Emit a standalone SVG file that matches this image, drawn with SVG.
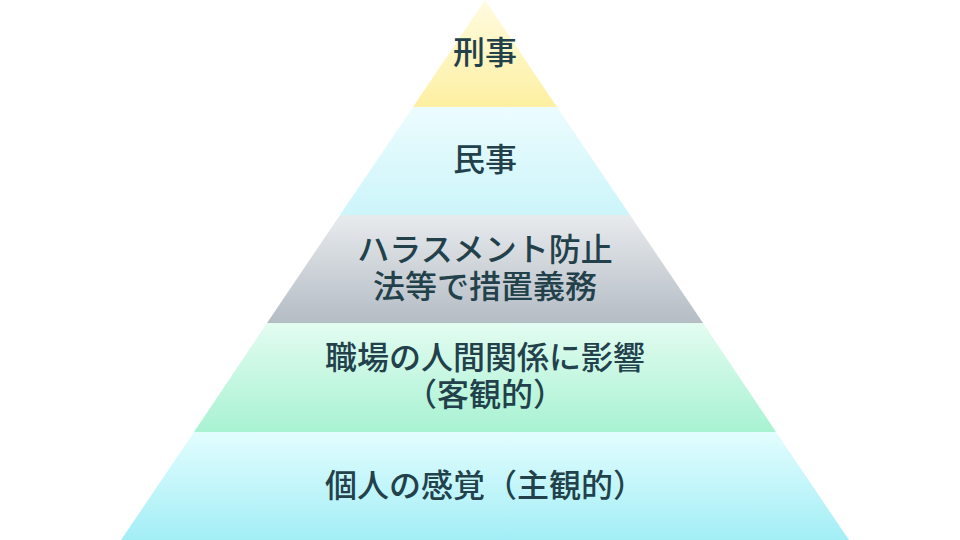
<svg xmlns="http://www.w3.org/2000/svg" width="960" height="540" viewBox="0 0 960 540">
<defs>
<linearGradient id="g1" x1="0" y1="0" x2="0" y2="1"><stop offset="0" stop-color="#fffbe0"/><stop offset="1" stop-color="#fdf0a2"/></linearGradient>
<linearGradient id="g2" x1="0" y1="0" x2="0" y2="1"><stop offset="0" stop-color="#ecfcfe"/><stop offset="1" stop-color="#ccf5fa"/></linearGradient>
<linearGradient id="g3" x1="0" y1="0" x2="0" y2="1"><stop offset="0" stop-color="#e8ebee"/><stop offset="1" stop-color="#b4bcc4"/></linearGradient>
<linearGradient id="g4" x1="0" y1="0" x2="0" y2="1"><stop offset="0" stop-color="#e3fcf1"/><stop offset="1" stop-color="#a8f2d2"/></linearGradient>
<linearGradient id="g5" x1="0" y1="0" x2="0" y2="1"><stop offset="0" stop-color="#e2fdfe"/><stop offset="1" stop-color="#a3eef6"/></linearGradient>
</defs>
<style>
text{font-family:"Noto Sans CJK JP","Noto Sans CJK SC",sans-serif;font-size:32px;font-weight:500;fill:#22414b;text-anchor:middle;dominant-baseline:central}
</style>
<rect width="960" height="540" fill="#ffffff"/>
<g id="layer-keiji">
<polygon points="485,0 557,107 413,107" fill="url(#g1)"/>
<text x="485" y="50">刑事</text>
</g>
<g id="layer-minji">
<polygon points="413,107 557,107 630,215 340,215" fill="url(#g2)"/>
<text x="485" y="157">民事</text>
</g>
<g id="layer-harassment">
<polygon points="340,215 630,215 703,323 267,323" fill="url(#g3)"/>
<text x="485" y="247">ハラスメント防止</text>
<text x="485" y="284">法等で措置義務</text>
</g>
<g id="layer-workplace">
<polygon points="267,323 703,323 776,432 194,432" fill="url(#g4)"/>
<text x="485" y="355">職場の人間関係に影響</text>
<text x="485" y="392">（客観的）</text>
</g>
<g id="layer-personal">
<polygon points="194,432 776,432 849,540 121,540" fill="url(#g5)"/>
<text x="485" y="483">個人の感覚（主観的）</text>
</g>
<g id="connectors"></g>
</svg>
